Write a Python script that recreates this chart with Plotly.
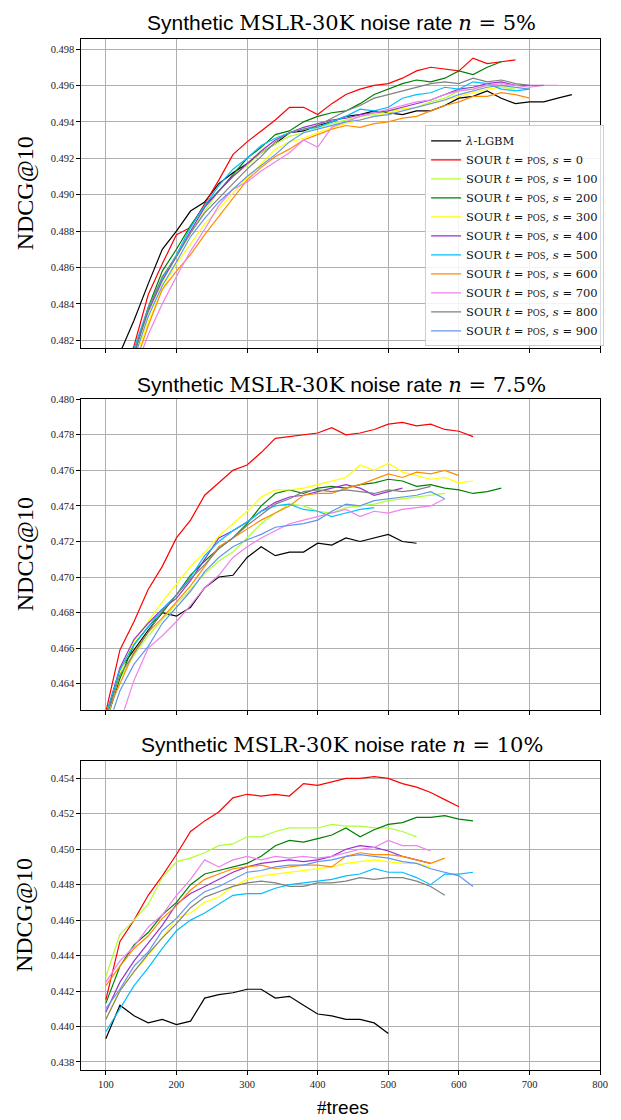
import plotly.graph_objects as go

# ---------------- data ----------------
TREES = list(range(100, 801, 20))
S_VALUES = [0, 100, 200, 300, 400, 500, 600, 700, 800, 900]
COLORS = ["#000000", "#ff0000", "#adff2f", "#008000", "#ffff00", "#9932cc",
          "#00bfff", "#ff8c00", "#ee82ee", "#808080", "#6495ed"]
NOISE = ["5%", "7.5%", "10%"]

# Panel 1 : n = 5%
P1_LGBM = [0.4795, 0.4813, 0.4831, 0.4851, 0.4870, 0.4880, 0.4891, 0.4896, 0.4906, 0.4912, 0.4917, 0.4923,
           0.4928, 0.4934, 0.4935, 0.4938, 0.4940, 0.4943, 0.4944, 0.4946, 0.4945, 0.4944, 0.4946, 0.4946,
           0.4949, 0.4953, 0.4954, 0.4957, 0.4953, 0.4950, 0.4951, 0.4951, 0.4953, 0.4955]
P1_S0 = [0.4772, 0.4795, 0.4817, 0.4845, 0.4862, 0.4878, 0.4882, 0.4895, 0.4908, 0.4922, 0.4929, 0.4935,
         0.4941, 0.4948, 0.4948, 0.4944, 0.4950, 0.4955, 0.4958, 0.4960, 0.4961, 0.4964, 0.4968, 0.4970,
         0.4969, 0.4968, 0.4975, 0.4972, 0.4973, 0.4974]
P1_S100 = [0.4767, 0.4790, 0.4812, 0.4835, 0.4852, 0.4866, 0.4879, 0.4891, 0.4902, 0.4910, 0.4916, 0.4923,
           0.4928, 0.4932, 0.4934, 0.4937, 0.4939, 0.4941, 0.4943, 0.4944, 0.4946, 0.4947, 0.4948, 0.4951,
           0.4953, 0.4957, 0.4958, 0.4960, 0.4959, 0.4958]
P1_S200 = [0.4768, 0.4790, 0.4812, 0.4838, 0.4858, 0.4870, 0.4883, 0.4894, 0.4902, 0.4911, 0.4920, 0.4926,
           0.4933, 0.4935, 0.4940, 0.4943, 0.4945, 0.4946, 0.4950, 0.4955, 0.4958, 0.4961, 0.4963, 0.4962,
           0.4964, 0.4968, 0.4966, 0.4970, 0.4973]
P1_S300 = [0.4764, 0.4786, 0.4808, 0.4830, 0.4848, 0.4862, 0.4873, 0.4884, 0.4892, 0.4901, 0.4909, 0.4917,
           0.4925, 0.4929, 0.4931, 0.4934, 0.4937, 0.4939, 0.4941, 0.4943, 0.4945, 0.4947, 0.4948, 0.4950,
           0.4952, 0.4954, 0.4956, 0.4958, 0.4959, 0.4960]
P1_S400 = [0.4768, 0.4791, 0.4813, 0.4836, 0.4853, 0.4866, 0.4880, 0.4893, 0.4902, 0.4910, 0.4917, 0.4924,
           0.4930, 0.4934, 0.4937, 0.4939, 0.4941, 0.4942, 0.4944, 0.4945, 0.4946, 0.4948, 0.4950, 0.4952,
           0.4955, 0.4958, 0.4959, 0.4961, 0.4962, 0.4960, 0.4960]
P1_S500 = [0.4770, 0.4793, 0.4815, 0.4838, 0.4854, 0.4867, 0.4882, 0.4894, 0.4905, 0.4914, 0.4920, 0.4927,
           0.4931, 0.4934, 0.4936, 0.4937, 0.4940, 0.4943, 0.4947, 0.4946, 0.4948, 0.4953, 0.4955, 0.4956,
           0.4959, 0.4958, 0.4962, 0.4961, 0.4958, 0.4957, 0.4958]
P1_S600 = [0.4762, 0.4783, 0.4805, 0.4828, 0.4848, 0.4858, 0.4867, 0.4878, 0.4888, 0.4898, 0.4908, 0.4915,
           0.4921, 0.4925, 0.4930, 0.4933, 0.4936, 0.4938, 0.4937, 0.4939, 0.4940, 0.4942, 0.4943, 0.4946,
           0.4949, 0.4951, 0.4954, 0.4954, 0.4956, 0.4955, 0.4953]
P1_S700 = [0.4755, 0.4778, 0.4802, 0.4823, 0.4840, 0.4855, 0.4869, 0.4881, 0.4894, 0.4903, 0.4907, 0.4913,
           0.4918, 0.4923, 0.4930, 0.4926, 0.4937, 0.4940, 0.4943, 0.4945, 0.4947, 0.4949, 0.4951, 0.4952,
           0.4955, 0.4957, 0.4958, 0.4960, 0.4961, 0.4960, 0.4959, 0.4960, 0.4960]
P1_S800 = [0.4769, 0.4791, 0.4813, 0.4837, 0.4855, 0.4866, 0.4879, 0.4890, 0.4898, 0.4906, 0.4914, 0.4921,
           0.4929, 0.4934, 0.4936, 0.4938, 0.4942, 0.4946, 0.4949, 0.4953, 0.4955, 0.4957, 0.4959, 0.4961,
           0.4962, 0.4961, 0.4964, 0.4962, 0.4963, 0.4961, 0.4960, 0.4960]
P1_S900 = [0.4766, 0.4789, 0.4810, 0.4833, 0.4850, 0.4863, 0.4877, 0.4887, 0.4896, 0.4903, 0.4910, 0.4916,
           0.4922, 0.4929, 0.4934, 0.4936, 0.4938, 0.4940, 0.4941, 0.4943, 0.4944, 0.4946, 0.4948, 0.4950,
           0.4952, 0.4955, 0.4957, 0.4959, 0.4960, 0.4959, 0.4958]

# Panel 2 : n = 7.5%
P2_LGBM = [0.4620, 0.4648, 0.4659, 0.4670, 0.4680, 0.4678, 0.4683, 0.4694, 0.4700, 0.4701, 0.4711, 0.4717,
           0.4712, 0.4714, 0.4714, 0.4719, 0.4718, 0.4722, 0.4720, 0.4722, 0.4724, 0.4720, 0.4719]
P2_S0 = [0.4624, 0.4659, 0.4675, 0.4693, 0.4706, 0.4722, 0.4732, 0.4746, 0.4753, 0.4760, 0.4763, 0.4770,
         0.4778, 0.4779, 0.4780, 0.4781, 0.4784, 0.4780, 0.4781, 0.4783, 0.4786, 0.4787, 0.4785, 0.4786,
         0.4783, 0.4782, 0.4779]
P2_S100 = [0.4620, 0.4643, 0.4656, 0.4667, 0.4676, 0.4685, 0.4693, 0.4702, 0.4709, 0.4714, 0.4722, 0.4730,
           0.4736, 0.4741, 0.4740, 0.4737, 0.4736, 0.4739, 0.4740, 0.4741, 0.4743, 0.4744, 0.4745, 0.4746,
           0.4747]
P2_S200 = [0.4618, 0.4643, 0.4662, 0.4672, 0.4680, 0.4690, 0.4701, 0.4709, 0.4716, 0.4722, 0.4730, 0.4740,
           0.4747, 0.4749, 0.4747, 0.4750, 0.4751, 0.4750, 0.4752, 0.4753, 0.4755, 0.4754, 0.4751, 0.4752,
           0.4750, 0.4749, 0.4747, 0.4748, 0.4750]
P2_S300 = [0.4618, 0.4646, 0.4664, 0.4675, 0.4686, 0.4696, 0.4706, 0.4714, 0.4723, 0.4730, 0.4737, 0.4745,
           0.4749, 0.4749, 0.4750, 0.4752, 0.4754, 0.4756, 0.4763, 0.4760, 0.4764, 0.4759, 0.4757, 0.4755,
           0.4756, 0.4753, 0.4754]
P2_S400 = [0.4622, 0.4649, 0.4665, 0.4674, 0.4682, 0.4688, 0.4698, 0.4710, 0.4722, 0.4726, 0.4731, 0.4737,
           0.4742, 0.4745, 0.4746, 0.4748, 0.4750, 0.4752, 0.4750, 0.4746, 0.4748, 0.4750]
P2_S500 = [0.4622, 0.4648, 0.4662, 0.4672, 0.4682, 0.4690, 0.4700, 0.4712, 0.4720, 0.4726, 0.4731, 0.4737,
           0.4740, 0.4741, 0.4738, 0.4737, 0.4734, 0.4736, 0.4738, 0.4739]
P2_S600 = [0.4622, 0.4640, 0.4658, 0.4669, 0.4677, 0.4686, 0.4695, 0.4706, 0.4717, 0.4722, 0.4727, 0.4732,
           0.4736, 0.4740, 0.4746, 0.4747, 0.4747, 0.4750, 0.4752, 0.4755, 0.4758, 0.4756, 0.4759, 0.4758,
           0.4760, 0.4757]
P2_S700 = [0.4600, 0.4618, 0.4642, 0.4660, 0.4667, 0.4675, 0.4684, 0.4694, 0.4701, 0.4711, 0.4717, 0.4722,
           0.4726, 0.4730, 0.4732, 0.4734, 0.4736, 0.4738, 0.4734, 0.4737, 0.4736, 0.4738, 0.4739, 0.4740,
           0.4744]
P2_S800 = [0.4620, 0.4645, 0.4657, 0.4669, 0.4681, 0.4690, 0.4699, 0.4707, 0.4716, 0.4722, 0.4729, 0.4735,
           0.4741, 0.4744, 0.4748, 0.4749, 0.4748, 0.4749, 0.4748, 0.4747, 0.4749, 0.4748, 0.4749, 0.4751]
P2_S900 = [0.4612, 0.4636, 0.4651, 0.4661, 0.4674, 0.4683, 0.4692, 0.4703, 0.4711, 0.4717, 0.4721, 0.4724,
           0.4728, 0.4729, 0.4730, 0.4732, 0.4737, 0.4741, 0.4740, 0.4743, 0.4744, 0.4745, 0.4746, 0.4748,
           0.4744]

# Panel 3 : n = 10%
P3_LGBM = [0.4393, 0.4412, 0.4406, 0.4402, 0.4404, 0.4401, 0.4403, 0.4416, 0.4418, 0.4419, 0.4421, 0.4421,
           0.4416, 0.4417, 0.4412, 0.4407, 0.4406, 0.4404, 0.4404, 0.4402, 0.4396]
P3_S0 = [0.4415, 0.4448, 0.4460, 0.4474, 0.4485, 0.4497, 0.4510, 0.4516, 0.4521, 0.4529, 0.4531, 0.4530,
         0.4531, 0.4530, 0.4537, 0.4536, 0.4538, 0.4540, 0.4540, 0.4541, 0.4540, 0.4537, 0.4535, 0.4532,
         0.4528, 0.4524]
P3_S100 = [0.4428, 0.4452, 0.4460, 0.4469, 0.4484, 0.4493, 0.4495, 0.4498, 0.4502, 0.4503, 0.4507, 0.4507,
           0.4510, 0.4512, 0.4512, 0.4512, 0.4514, 0.4513, 0.4513, 0.4512, 0.4512, 0.4510, 0.4507]
P3_S200 = [0.4413, 0.4434, 0.4446, 0.4453, 0.4463, 0.4470, 0.4480, 0.4486, 0.4488, 0.4490, 0.4492, 0.4496,
           0.4502, 0.4505, 0.4504, 0.4506, 0.4508, 0.4512, 0.4507, 0.4511, 0.4514, 0.4515, 0.4518, 0.4518,
           0.4519, 0.4517, 0.4516]
P3_S300 = [0.4404, 0.4421, 0.4431, 0.4440, 0.4450, 0.4461, 0.4464, 0.4470, 0.4473, 0.4479, 0.4483, 0.4485,
           0.4486, 0.4487, 0.4488, 0.4489, 0.4490, 0.4492, 0.4493, 0.4494, 0.4493, 0.4492, 0.4492, 0.4490]
P3_S400 = [0.4408, 0.4425, 0.4437, 0.4447, 0.4457, 0.4469, 0.4475, 0.4479, 0.4483, 0.4487, 0.4490, 0.4492,
           0.4493, 0.4494, 0.4493, 0.4494, 0.4496, 0.4500, 0.4502, 0.4501, 0.4499, 0.4496, 0.4494, 0.4492]
P3_S500 = [0.4397, 0.4410, 0.4423, 0.4433, 0.4444, 0.4454, 0.4460, 0.4464, 0.4469, 0.4474, 0.4475, 0.4475,
           0.4478, 0.4480, 0.4481, 0.4482, 0.4483, 0.4485, 0.4486, 0.4489, 0.4487, 0.4487, 0.4484, 0.4480,
           0.4486, 0.4486, 0.4487]
P3_S600 = [0.4423, 0.4434, 0.4444, 0.4451, 0.4461, 0.4468, 0.4477, 0.4483, 0.4486, 0.4489, 0.4490, 0.4491,
           0.4489, 0.4490, 0.4491, 0.4491, 0.4490, 0.4496, 0.4498, 0.4497, 0.4497, 0.4496, 0.4494, 0.4492,
           0.4495]
P3_S700 = [0.4425, 0.4437, 0.4445, 0.4456, 0.4463, 0.4474, 0.4483, 0.4494, 0.4490, 0.4494, 0.4496, 0.4494,
           0.4496, 0.4495, 0.4496, 0.4495, 0.4496, 0.4498, 0.4500, 0.4501, 0.4505, 0.4502, 0.4502, 0.4499]
P3_S800 = [0.4404, 0.4420, 0.4431, 0.4441, 0.4450, 0.4458, 0.4467, 0.4473, 0.4476, 0.4479, 0.4481, 0.4482,
           0.4481, 0.4479, 0.4479, 0.4481, 0.4481, 0.4482, 0.4484, 0.4483, 0.4484, 0.4484, 0.4482, 0.4479,
           0.4474]
P3_S900 = [0.4410, 0.4421, 0.4434, 0.4442, 0.4454, 0.4461, 0.4470, 0.4476, 0.4479, 0.4483, 0.4487, 0.4488,
           0.4490, 0.4491, 0.4491, 0.4493, 0.4494, 0.4496, 0.4497, 0.4496, 0.4495, 0.4493, 0.4492, 0.4489,
           0.4487, 0.4485, 0.4479]

PANELS = [
    [P1_LGBM, P1_S0, P1_S100, P1_S200, P1_S300, P1_S400, P1_S500, P1_S600, P1_S700, P1_S800, P1_S900],
    [P2_LGBM, P2_S0, P2_S100, P2_S200, P2_S300, P2_S400, P2_S500, P2_S600, P2_S700, P2_S800, P2_S900],
    [P3_LGBM, P3_S0, P3_S100, P3_S200, P3_S300, P3_S400, P3_S500, P3_S600, P3_S700, P3_S800, P3_S900],
]
Y_RANGES = [[0.48155, 0.49856], [0.46253, 0.48000], [0.43753, 0.45500]]
Y_TICKS = [[0.482, 0.484, 0.486, 0.488, 0.490, 0.492, 0.494, 0.496, 0.498],
           [0.464, 0.466, 0.468, 0.470, 0.472, 0.474, 0.476, 0.478, 0.480],
           [0.438, 0.440, 0.442, 0.444, 0.446, 0.448, 0.450, 0.452, 0.454]]
X_TICKS = [100, 200, 300, 400, 500, 600, 700, 800]

# ---------------- style ----------------
SERIF = "Liberation Serif"
WSERIF = "DejaVu Serif"
SANS = "Liberation Sans"
W, H = 621, 1120
X_DOM = [82.5 / W, 608.0 / W]
PANEL_PX = [(34, 345), (396, 708), (759, 1070)]   # top, bottom in px
TITLE_PX = [18, 382, 743]


def fam(name):
    return "<span style=\"font-family:'%s'\">" % name


LABELS = ["<i>λ</i>-LGBM"] + [
    "SOUR <i>t</i> = <span style='font-size:8.5px'>POS</span>, <i>s</i> = %d" % s for s in S_VALUES
]

fig = go.Figure()
for p, series in enumerate(PANELS):
    xa = "x" if p == 0 else "x%d" % (p + 1)
    ya = "y" if p == 0 else "y%d" % (p + 1)
    for k, ys in enumerate(series):
        fig.add_trace(go.Scatter(
            x=TREES[:len(ys)], y=ys, mode="lines",
            line=dict(color=COLORS[k], width=1.2),
            name=LABELS[k], legendgroup=str(k), showlegend=(p == 0),
            xaxis=xa, yaxis=ya, hoverinfo="skip"))

layout = dict(
    width=W, height=H, margin=dict(l=0, r=0, t=0, b=0),
    paper_bgcolor="white", plot_bgcolor="white", showlegend=True,
    legend=dict(x=612 / W, y=1 - 343 / H, xanchor="right", yanchor="bottom",
                bgcolor="rgba(255,255,255,0.85)", bordercolor="#cccccc", borderwidth=1,
                font=dict(family=WSERIF, size=11.5, color="#111111"), tracegroupgap=0),
)
annotations = []
for p in range(3):
    sfx = "" if p == 0 else str(p + 1)
    top, bot = PANEL_PX[p]
    layout["xaxis" + sfx] = dict(
        domain=X_DOM, range=[65.5, 800], tickvals=X_TICKS, showticklabels=(p == 2),
        ticks="outside", ticklen=4, tickwidth=1, tickcolor="black",
        showgrid=True, gridcolor="#b0b0b0", gridwidth=1, zeroline=False,
        showline=True, linecolor="black", linewidth=1, mirror=True,
        anchor="y" + sfx, tickfont=dict(family=SERIF, size=10.5, color="#222222"))
    layout["yaxis" + sfx] = dict(
        domain=[1 - bot / H, 1 - top / H], range=Y_RANGES[p], tickvals=Y_TICKS[p],
        tickformat=".3f", ticks="outside", ticklen=4, tickwidth=1, tickcolor="black",
        showgrid=True, gridcolor="#b0b0b0", gridwidth=1, zeroline=False,
        showline=True, linecolor="black", linewidth=1, mirror=True,
        anchor="x" + sfx, tickfont=dict(family=SERIF, size=10.5, color="#222222"))
    annotations.append(dict(
        xref="paper", yref="paper", x=346 / W, y=1 - TITLE_PX[p] / H, showarrow=False,
        xanchor="center", yanchor="middle",
        text=("Synthetic %sMSLR-30K</span> noise rate %s<i>n</i> = %s</span>")
             % (fam(WSERIF), fam(WSERIF), NOISE[p]),
        font=dict(family=SANS, size=21, color="black")))
    annotations.append(dict(
        xref="paper", yref="paper", x=25 / W, y=1 - (top + bot) / 2 / H, showarrow=False,
        textangle=-90, xanchor="center", yanchor="middle", text="NDCG@10",
        font=dict(family=SERIF, size=24, color="black")))
annotations.append(dict(
    xref="paper", yref="paper", x=347 / W, y=1 - 1107 / H, showarrow=False,
    xanchor="center", yanchor="middle",
    text="%s#</span>trees" % fam(SERIF),
    font=dict(family=SANS, size=19, color="black")))
layout["annotations"] = annotations
fig.update_layout(**layout)
fig.write_html("out.html", config={"displayModeBar": False},
               post_script="document.body.style.margin='0px';document.body.style.overflow='hidden';")
